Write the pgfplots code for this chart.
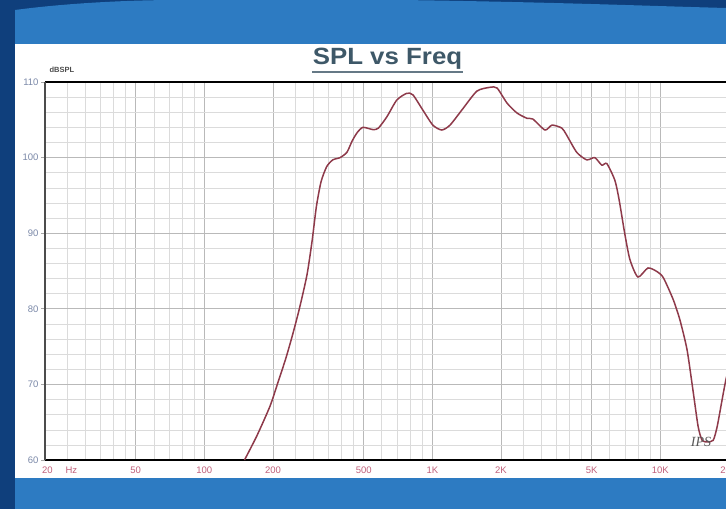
\documentclass[border=0pt]{standalone}
\usepackage{pgfplots}
\pgfplotsset{compat=1.18}
\usepackage{fontspec}
\setmainfont{Liberation Sans}
\newfontfamily\serifit{Liberation Serif}
\definecolor{darkbg}{HTML}{0F3F7C}
\definecolor{lightbg}{HTML}{2D7BC2}
\definecolor{curvec}{HTML}{8E3A4A}
\definecolor{titlec}{HTML}{3E5868}
\definecolor{xlab}{HTML}{C0607A}
\definecolor{ylab}{HTML}{7A88A8}
\begin{document}
\begin{tikzpicture}
\useasboundingbox (0pt,0pt) rectangle (726pt,509pt);
\fill[darkbg] (0pt,0pt) rectangle (726pt,509pt);
\fill[lightbg] (15pt,0pt) -- (15pt,499pt) .. controls (60pt,505pt) and (120pt,509pt) .. (180pt,509pt) -- (400pt,509pt) .. controls (550pt,507pt) and (650pt,503pt) .. (726pt,501pt) -- (726pt,0pt) -- cycle;
\fill[white] (15pt,31pt) rectangle (726pt,465pt);
\begin{axis}[
  at={(45pt,49pt)}, anchor=south west,
  scale only axis, width=706pt, height=378pt,
  xmode=log, xmin=20, xmax=25000, ymin=60, ymax=110,
  log basis x=10,
  xtick={20,50,100,200,500,1000,2000,5000,10000,20000},
  xticklabels={{\rlap{\hspace*{-3pt}20\hspace{13pt}Hz}},50,100,200,500,1K,2K,5K,10K,20K},
  minor xtick={25,30,35,40,45,60,70,80,90,250,300,350,400,450,600,700,800,900,2500,3000,3500,4000,4500,6000,7000,8000,9000,25000},
  ytick={60,70,80,90,100,110},
  minor ytick={62,64,66,68,72,74,76,78,82,84,86,88,92,94,96,98,102,104,106,108},
  grid=both,
  major grid style={gray!55, line width=0.6pt},
  minor grid style={gray!28, line width=0.5pt},
  separate axis lines,
  x axis line style={black, line width=1.6pt},
  y axis line style={gray!60!black, line width=1.2pt},
  xtick style={draw=none},
  ytick style={gray!70, line width=0.6pt},
  minor tick length=0pt,
  major tick length=4pt,
  tick align=outside,
  tick pos=left,
  /pgf/number format/assume math mode=true,
  x tick label style={font=\fontsize{9.5}{11}\selectfont, text=xlab, yshift=1pt},
  y tick label style={font=\fontsize{9.5}{11}\selectfont, text=ylab, xshift=1pt},
  clip=true,
]
\addplot[curvec, line width=1.5pt, smooth, tension=0.4] coordinates {
(150,60) (170,63.2) (194,67.1) (210,70.2) (228,73.5) (245,76.8) (262,80.2) (282,84.5) (297,89.0) (310,93.5)
(325,96.8) (344,98.8) (366,99.7) (394,100) (422,100.7) (445,102.2) (468,103.3) (496,104.0) (550,103.7) (580,103.9)
(632,105.4) (698,107.6) (772,108.5) (822,108.3) (908,106.3) (1005,104.3) (1100,103.65) (1196,104.3) (1364,106.5)
(1570,108.8) (1792,109.3) (1924,109.2) (2128,107.2) (2352,105.9) (2600,105.2) (2760,105.1) (3120,103.65) (3350,104.3)
(3700,103.9) (3880,103.0) (4300,100.7) (4760,99.7) (5160,100.0) (5540,99.0) (5830,99.2) (6320,97.0) (6600,94.4)
(6980,90.0) (7360,86.5) (7980,84.2) (8830,85.4) (9700,84.9) (10320,84.1) (11400,81.2) (12200,78.5) (13100,74.6)
(13900,69.3) (14660,64.4) (15260,62.6) (16060,62.4) (17060,62.6) (17760,64.4) (18680,68.0) (19400,70.6) (20500,73.5)
};
\end{axis}
\node[anchor=base, text=titlec, font=\fontsize{23.5}{26}\selectfont\bfseries] at (387.5pt,444pt) {\scalebox{1.1}[1]{SPL vs Freq}};
\draw[titlec!80, line width=1.5pt] (312pt,437pt) -- (463pt,437pt);
\node[anchor=west, text=gray!60!black, font=\fontsize{7.5}{9}\selectfont\bfseries] at (46pt,439pt) {dBSPL};
\node[text=gray!70!black, font=\fontsize{14}{16}\serifit\itshape] at (701pt,67pt) {IPS};
\end{tikzpicture}
\end{document}
